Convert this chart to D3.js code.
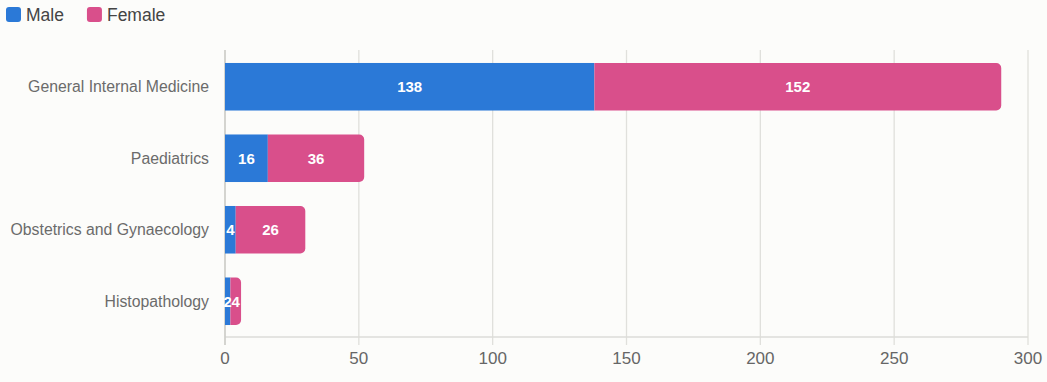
<!DOCTYPE html>
<html>
<head>
<meta charset="utf-8">
<script src="https://cdn.jsdelivr.net/npm/d3@7"></script>
<style>
  body { margin: 0; background: #fcfcfa; }
  svg { display: block; font-family: "Helvetica Neue", Arial, "Liberation Sans", sans-serif; }
</style>
</head>
<body>
<svg id="chart" width="1047" height="382"></svg>
<script>
const categories = ["General Internal Medicine", "Paediatrics", "Obstetrics and Gynaecology", "Histopathology"];
const male = [138, 16, 4, 2];
const female = [152, 36, 26, 4];
const seriesNames = ["Male", "Female"];
const colors = ["#2b79d7", "#d94f8b"];
const xTicks = [0, 50, 100, 150, 200, 250, 300];

const margin = { top: 51, right: 19, bottom: 45, left: 225 };
const W = 1047, H = 382;
const innerW = W - margin.left - margin.right;
const innerH = H - margin.top - margin.bottom;

const svg = d3.select("#chart");
const g = svg.append("g").attr("transform", `translate(${margin.left},${margin.top})`);

const x = d3.scaleLinear().domain([0, 300]).range([0, innerW]);
const y = d3.scaleBand().domain(categories).range([0, innerH]).paddingInner(0.335).paddingOuter(0.1675);

// grid
g.selectAll(".grid")
  .data(xTicks)
  .join("line")
  .attr("x1", d => x(d)).attr("x2", d => x(d))
  .attr("y1", -1).attr("y2", innerH + 8)
  .attr("stroke", "#e0e0dc").attr("stroke-width", 1.3);

// axis lines
g.append("line")
  .attr("x1", 0).attr("x2", innerW)
  .attr("y1", innerH).attr("y2", innerH)
  .attr("stroke", "#dcdcd8").attr("stroke-width", 1.3);
g.append("line")
  .attr("x1", 0).attr("x2", 0)
  .attr("y1", -1).attr("y2", innerH + 8)
  .attr("stroke", "#c8c8c4").attr("stroke-width", 1.3);

g.selectAll(".xlab")
  .data(xTicks)
  .join("text")
  .attr("x", d => x(d)).attr("y", innerH + 27)
  .attr("text-anchor", "middle")
  .attr("fill", "#666").attr("font-size", 17)
  .text(d => d);

g.selectAll(".ylab")
  .data(categories)
  .join("text")
  .attr("x", -16).attr("y", d => y(d) + y.bandwidth() / 2)
  .attr("dy", "0.35em")
  .attr("text-anchor", "end")
  .attr("fill", "#6b6b6b").attr("font-size", 15.8)
  .text(d => d);

const rows = categories.map((c, i) => ({ cat: c, values: [male[i], female[i]] }));

rows.forEach(row => {
  let acc = 0;
  const y0 = y(row.cat), bh = y.bandwidth();
  row.values.forEach((v, k) => {
    const x0 = x(acc), x1 = x(acc + v);
    acc += v;
    if (k === row.values.length - 1) {
      // last segment gets rounded right corners
      const r = 5;
      const p = d3.path();
      p.moveTo(x0, y0);
      p.lineTo(x1 - r, y0);
      p.arcTo(x1, y0, x1, y0 + r, r);
      p.lineTo(x1, y0 + bh - r);
      p.arcTo(x1, y0 + bh, x1 - r, y0 + bh, r);
      p.lineTo(x0, y0 + bh);
      p.closePath();
      g.append("path").attr("d", p.toString()).attr("fill", colors[k]);
    } else {
      g.append("rect")
        .attr("x", x0).attr("y", y0)
        .attr("width", x1 - x0).attr("height", bh)
        .attr("fill", colors[k]);
    }
  });
  acc = 0;
  row.values.forEach((v, k) => {
    const cx = x(acc + v / 2);
    acc += v;
    g.append("text")
      .attr("x", cx).attr("y", y0 + bh / 2)
      .attr("dy", "0.36em")
      .attr("text-anchor", "middle")
      .attr("fill", "#fff").attr("font-size", 15).attr("font-weight", "bold")
      .text(v);
  });
});

// legend
const legend = svg.append("g").attr("transform", "translate(6,7)");
let lx = 0;
seriesNames.forEach((name, i) => {
  const item = legend.append("g").attr("transform", `translate(${lx},0)`);
  item.append("rect")
    .attr("width", 15).attr("height", 15).attr("rx", 3)
    .attr("fill", colors[i]);
  const t = item.append("text")
    .attr("x", 20).attr("y", 7.5).attr("dy", "0.36em")
    .attr("fill", "#444").attr("font-size", 17.5)
    .text(name);
  lx += 20 + t.node().getComputedTextLength() + 23;
});
</script>
</body>
</html>
